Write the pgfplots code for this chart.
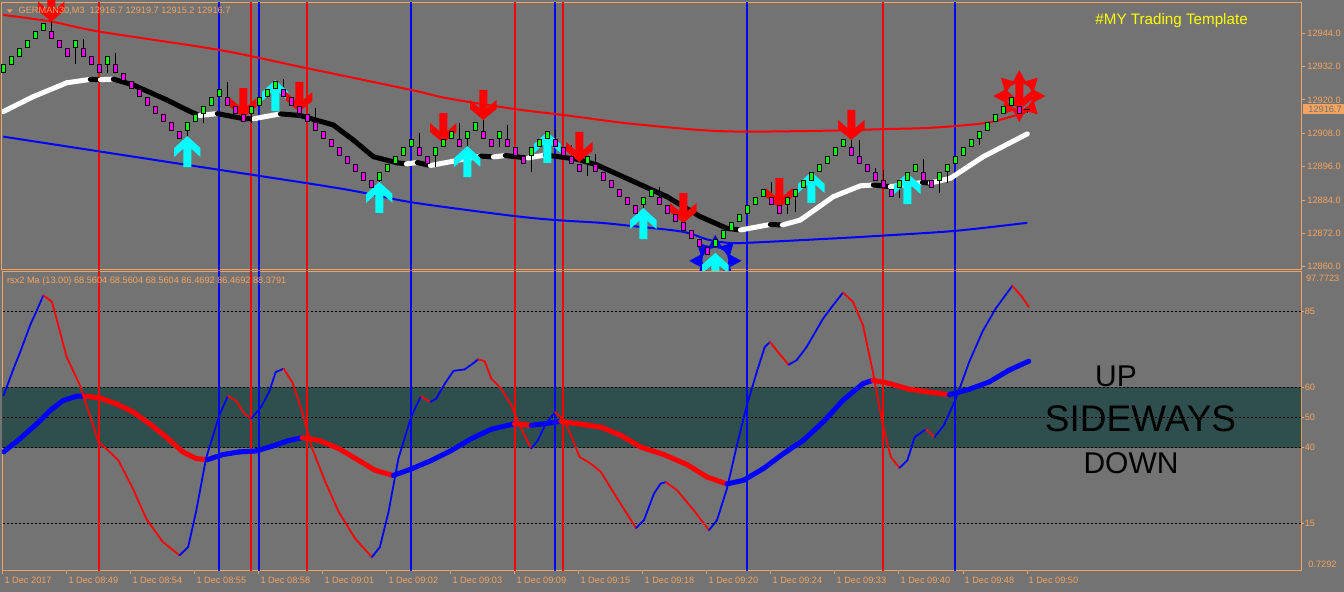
\documentclass[border=0pt]{standalone}
\usepackage{fontspec}
\setmainfont{Liberation Sans}
\usepackage{pgfplots}
\pgfplotsset{compat=1.18}
\usepackage{pgfplotstable}

\definecolor{bgg}{RGB}{115,115,115}
\definecolor{sandy}{RGB}{244,164,96}
\definecolor{dsg}{RGB}{47,79,79}
\definecolor{lime}{RGB}{0,255,0}
\definecolor{aqua}{RGB}{0,255,255}
\definecolor{mag}{RGB}{255,0,255}
\definecolor{pred}{RGB}{255,0,0}
\definecolor{pblue}{RGB}{0,0,255}
\definecolor{yel}{RGB}{255,255,0}

\newcommand\tk{\fontsize{4.6}{5}\selectfont}

\pgfdeclareplotmark{cndl}{%
  \pgfpathrectangle{\pgfpoint{-1.05pt}{-1.83pt}}{\pgfpoint{2.1pt}{3.66pt}}%
  \pgfusepathqfillstroke}
\pgfdeclareplotmark{uarr}{%
  \pgfpathmoveto{\pgfpoint{0pt}{0pt}}%
  \pgfpathlineto{\pgfpoint{6.6pt}{-6pt}}%
  \pgfpathlineto{\pgfpoint{6.6pt}{-10.5pt}}%
  \pgfpathlineto{\pgfpoint{2pt}{-6.3pt}}%
  \pgfpathlineto{\pgfpoint{2pt}{-15.5pt}}%
  \pgfpathlineto{\pgfpoint{-2pt}{-15.5pt}}%
  \pgfpathlineto{\pgfpoint{-2pt}{-6.3pt}}%
  \pgfpathlineto{\pgfpoint{-6.6pt}{-10.5pt}}%
  \pgfpathlineto{\pgfpoint{-6.6pt}{-6pt}}%
  \pgfpathclose\pgfusepathqfill}
\pgfdeclareplotmark{darr}{%
  \pgfpathmoveto{\pgfpoint{0pt}{0pt}}%
  \pgfpathlineto{\pgfpoint{6.6pt}{5.5pt}}%
  \pgfpathlineto{\pgfpoint{6.6pt}{10pt}}%
  \pgfpathlineto{\pgfpoint{2pt}{6pt}}%
  \pgfpathlineto{\pgfpoint{2pt}{15pt}}%
  \pgfpathlineto{\pgfpoint{-2pt}{15pt}}%
  \pgfpathlineto{\pgfpoint{-2pt}{6pt}}%
  \pgfpathlineto{\pgfpoint{-6.6pt}{10pt}}%
  \pgfpathlineto{\pgfpoint{-6.6pt}{5.5pt}}%
  \pgfpathclose\pgfusepathqfill}
\pgfdeclareplotmark{burst}{%
  \pgfpathmoveto{\pgfpointpolar{90}{13pt}}%
  \pgfpathlineto{\pgfpointpolar{112.5}{8pt}}%
  \pgfpathlineto{\pgfpointpolar{135}{13pt}}%
  \pgfpathlineto{\pgfpointpolar{157.5}{8pt}}%
  \pgfpathlineto{\pgfpointpolar{180}{13pt}}%
  \pgfpathlineto{\pgfpointpolar{202.5}{8pt}}%
  \pgfpathlineto{\pgfpointpolar{225}{13pt}}%
  \pgfpathlineto{\pgfpointpolar{247.5}{8pt}}%
  \pgfpathlineto{\pgfpointpolar{270}{13pt}}%
  \pgfpathlineto{\pgfpointpolar{292.5}{8pt}}%
  \pgfpathlineto{\pgfpointpolar{315}{13pt}}%
  \pgfpathlineto{\pgfpointpolar{337.5}{8pt}}%
  \pgfpathlineto{\pgfpointpolar{0}{13pt}}%
  \pgfpathlineto{\pgfpointpolar{22.5}{8pt}}%
  \pgfpathlineto{\pgfpointpolar{45}{13pt}}%
  \pgfpathlineto{\pgfpointpolar{67.5}{8pt}}%
  \pgfpathclose\pgfusepathqfill
  \pgfsetfillcolor{bgg}%
  \pgfpathcircle{\pgfpointorigin}{6.5pt}\pgfusepathqfill}

% wicks: k centre wick-above wick-below
\pgfplotstableread{
k c ep em
6 12943.3 6.9 0
9 12940.2 0 7.2
10 12937.1 4.9 0
13 12934.2 0 4.5
14 12931.3 5.6 0
23 12910.4 0 5.9
25 12916.4 0 4.7
28 12919.4 7.2 0
31 12916.4 0 4.8
35 12922.4 5.0 0
39 12910.4 6.6 0
47 12892.5 0 5.5
52 12901.5 6.7 0
54 12901.5 0 5.5
57 12904.5 7.2 0
58 12907.4 0 7.2
60 12907.4 6.2 0
62 12907.4 0 4.2
63 12904.5 6.6 0
66 12901.5 0 7.3
69 12904.5 5.1 0
71 12898.5 5.3 0
73 12898.5 0 5.9
74 12895.5 5.1 0
80 12883.6 0 5.6
82 12883.6 5.1 0
89 12868.5 0 6.7
96 12883.6 6.9 0
98 12883.6 0 4.7
99 12886.6 0 6.8
106 12901.5 5.3 0
107 12898.5 7.1 0
109 12892.5 3.0 0
110 12889.7 5.1 0
112 12889.7 0 4.9
115 12892.5 6.2 0
117 12892.5 0 5.9
118 12895.5 0 5.4
122 12907.4 0 3.7
127 12916.4 4.6 0
128 12916.7 3.0 1.5
}\tWick

% bullish candle bodies (centre price)
\pgfplotstableread{
k c
0 12931.3
1 12934.2
2 12937.1
3 12940.2
4 12943.3
5 12946.2
9 12940.2
13 12934.2
23 12910.4
24 12913.4
25 12916.4
26 12919.4
27 12922.4
31 12916.4
32 12919.4
33 12922.4
34 12925.3
47 12892.5
48 12895.5
49 12898.5
50 12901.5
51 12904.5
54 12901.5
55 12904.5
56 12907.4
58 12907.4
59 12910.4
62 12907.4
66 12901.5
67 12904.5
68 12907.4
73 12898.5
80 12883.6
81 12886.6
89 12868.5
90 12871.6
91 12874.5
92 12877.5
93 12880.6
94 12883.6
95 12886.6
98 12883.6
99 12886.6
100 12889.7
101 12892.5
102 12895.5
103 12898.5
104 12901.5
105 12904.5
112 12889.7
113 12892.5
114 12895.5
117 12892.5
118 12895.5
119 12898.5
120 12901.5
121 12904.5
122 12907.4
123 12910.4
124 12913.4
125 12916.4
126 12919.4
}\tBull

% bearish candle bodies (centre price)
\pgfplotstableread{
k c
6 12943.3
7 12940.2
8 12937.1
10 12937.1
11 12934.2
12 12931.3
14 12931.3
15 12928.3
16 12925.3
17 12922.4
18 12919.4
19 12916.4
20 12913.4
21 12910.4
22 12907.4
28 12919.4
29 12916.4
30 12913.4
35 12922.4
36 12919.4
37 12916.4
38 12913.4
39 12910.4
40 12907.4
41 12904.5
42 12901.5
43 12898.5
44 12895.5
45 12892.5
46 12889.7
52 12901.5
53 12898.5
57 12904.5
60 12907.4
61 12904.5
63 12904.5
64 12901.5
65 12898.5
69 12904.5
70 12901.5
71 12898.5
72 12895.5
74 12895.5
75 12892.5
76 12889.7
77 12886.6
78 12883.6
79 12880.6
82 12883.6
83 12880.6
84 12877.5
85 12874.5
86 12871.6
87 12868.5
88 12865.6
96 12883.6
97 12880.6
106 12901.5
107 12898.5
108 12895.5
109 12892.5
110 12889.7
111 12886.6
115 12892.5
116 12889.7
127 12916.4
}\tBear

% central moving average (f=1 rising/white, 0 falling/black)
\pgfplotstableread{
k p f
0 12915.8 1
3.75 12921.2 1
7.96 12926.2 1
10.88 12927.4 0
12.13 12927.3 1
13.75 12927.5 0
16.25 12925.4 0
20.46 12920.0 0
22.96 12916.4 0
24.5 12914.4 1
26.75 12915.1 0
30 12913.3 0
31.25 12913.2 1
34.63 12915.0 0
37.13 12914.4 0
41.25 12911.0 0
43.75 12905.6 0
46.25 12899.6 0
49.21 12897.4 0
50.38 12897.0 1
51.75 12897.5 0
53.38 12896.4 1
56.5 12898.1 1
59.63 12899.8 0
61.25 12899.5 1
62.75 12900.0 0
65.5 12899.1 1
67.75 12900.2 0
71.71 12898.7 0
74.21 12896.6 0
78.38 12891.2 0
82.96 12885.2 0
87.13 12878.0 0
90.46 12873.8 0
92.13 12873.2 1
95.88 12875.2 0
97.38 12875.0 1
99.63 12876.8 1
103.75 12885.2 1
107.13 12889.1 1
108.75 12889.4 0
110.88 12888.8 1
114.88 12890.3 0
115.88 12890.1 1
118.38 12891.8 1
122.5 12899.6 1
128 12907.8 1
}\tMa

\pgfplotstableread{
k p
0 12950.6
6 12948.2
12 12944.6
27 12938.0
37 12932.0
51 12923.6
55.5 12920.6
64 12916.7
70 12914.6
78 12911.6
87 12909.2
93 12908.6
104 12909.0
110 12909.5
116 12910.0
122.5 12911.6
126 12914.0
128 12915.8
}\tUpper

\pgfplotstableread{
k p
0 12906.8
21 12897.5
42 12888.2
51 12883.2
63.4 12878.4
69 12876.8
74.6 12875.8
78.4 12874.7
84.9 12872.6
88 12869.8
90.5 12868.6
93 12868.6
104 12870.2
110 12871.2
119 12872.9
128 12875.8
}\tLower

\pgfplotstableread{
k p
23 12907.0
34 12927.2
47 12890.5
58 12903.4
68 12908.5
80 12881.1
89 12865.0
101 12894.1
113 12893.7
}\tUp

\pgfplotstableread{
k p
6 12948.2
30 12913.5
37 12915.7
55 12904.5
60 12912.8
72 12897.7
85 12875.7
97 12881.1
106 12905.6
127 12916.4
}\tDn

% fast rsx line (f=1 rising/blue, 0 falling/red)
\pgfplotstableread{
k v f
0.04 57.3 1
1.28 66.1 1
2.11 71.6 1
3.36 80.5 1
4.19 85.4 1
5.02 90.4 0
6.09 88.2 0
7.09 78.3 0
7.92 70.0 0
9.58 60.6 0
10.82 50.7 0
11.90 41.9 0
13.31 38.6 0
14.39 35.8 0
16.21 26.4 0
17.87 16.5 0
19.95 8.8 0
22.02 4.4 1
23.10 7.1 1
24.09 18.7 1
25.34 36.4 1
27.00 50.7 1
28.08 57.1 0
29.07 55.6 0
30.15 51.2 0
30.98 49.6 1
32.22 53.4 1
33.22 58.4 1
34.05 65.0 1
35.04 66.1 0
36.12 61.7 0
37.37 51.8 0
38.61 39.7 0
40.27 28.6 0
41.93 18.7 0
44.00 9.9 0
46.07 3.8 1
47.07 7.1 1
48.15 18.7 1
49.39 36.4 1
51.05 50.7 1
52.21 57.0 0
53.37 55.1 1
54.12 56.2 1
55.20 61.2 1
56.28 65.4 1
57.69 65.9 1
58.68 67.8 1
59.35 69.2 0
60.18 68.6 0
61.00 62.8 0
62.25 59.5 0
63.49 54.0 0
64.74 46.3 0
65.98 39.7 1
66.81 42.4 1
67.81 47.9 1
68.97 51.8 0
70.13 49.0 0
71.12 43.0 0
72.04 36.9 0
73.45 34.7 0
74.69 32.0 0
76.76 23.1 0
79.09 13.4 1
80.08 16.0 1
81.33 24.8 1
82.16 28.1 1
82.82 28.6 0
84.23 25.9 0
86.30 19.3 0
88.21 12.7 1
89.21 16.0 1
90.45 26.4 1
91.70 40.8 1
92.94 54.0 1
94.18 65.0 1
95.18 73.3 1
95.84 75.0 0
96.84 71.6 0
98.16 67.4 1
99.16 68.9 1
100.41 73.3 1
102.48 82.7 1
103.72 87.1 1
104.97 91.3 0
106.21 88.2 0
107.46 80.5 0
108.70 65.0 0
109.94 47.4 0
110.94 36.9 0
112.02 33.3 1
113.01 35.8 1
113.92 43.5 1
115.33 46.1 0
116.41 43.5 1
117.57 47.4 1
119.07 56.2 1
120.73 68.3 1
122.38 78.3 1
124.04 86.0 1
126.12 93.5 0
127.36 89.8 0
128.19 86.5 0
}\tFast

% slow rsx average (f=1 rising/blue, 0 falling/red)
\pgfplotstableread{
k v f
0.04 38.6 1
2.11 43.0 1
4.19 47.9 1
5.85 52.3 1
7.50 55.6 1
9.16 57.0 1
10.24 57.1 0
12.07 56.4 0
14.14 54.5 0
16.21 51.8 0
18.29 47.9 0
20.36 43.5 0
22.43 38.6 0
24.09 36.4 0
25.50 36.0 1
27.41 37.7 1
29.49 38.6 1
31.56 38.9 1
33.63 40.5 1
35.71 42.4 1
37.37 43.3 0
39.44 42.4 0
41.93 39.7 0
44.42 35.8 0
46.49 32.5 0
48.73 30.8 1
51.05 33.0 1
53.54 35.8 1
56.03 39.1 1
58.52 43.0 1
61.00 46.1 1
63.91 47.9 0
65.98 47.4 1
67.64 47.9 1
69.71 48.7 0
71.79 47.9 0
74.69 46.8 0
77.18 44.1 0
79.67 40.2 0
82.57 37.7 0
85.47 34.4 0
87.96 30.3 0
90.45 28.0 1
92.52 29.2 1
95.01 33.1 1
97.50 38.0 1
99.99 42.4 1
102.48 48.5 1
104.97 55.7 1
107.46 61.2 1
108.70 62.3 0
110.77 61.2 0
113.26 59.3 0
115.75 58.4 0
118.24 57.5 1
120.73 59.3 1
123.21 61.7 1
125.70 65.6 1
128.19 68.6 1
}\tSlow

\begin{document}
\begin{tikzpicture}
\useasboundingbox (0,0) rectangle (672pt,296pt);
\fill[bgg] (0,0) rectangle (672pt,296pt);

%================ price panel
\begin{axis}[
  name=top, at={(1pt,161.35pt)}, anchor=south west, scale only axis,
  width=649.5pt, height=133.15pt,
  xmin=-0.16, xmax=162.21, ymin=12859.07, ymax=12954.9,
  axis background/.style={fill=bgg},
  axis line style={sandy, line width=0.5pt},
  xtick=\empty, scaled y ticks=false, scaled x ticks=false,
  ytick={12860,12872,12884,12896,12908,12920,12932,12944},
  yticklabels={12860.0,12872.0,12884.0,12896.0,12908.0,12920.0,12932.0,12944.0},
  ytick pos=right, yticklabel pos=right, tick align=outside,
  major tick length=2pt, tick style={sandy, line width=0.5pt},
  yticklabel style={font=\tk, text=sandy, anchor=west, inner sep=0pt, xshift=1pt},
  clip mode=global,
]
\pgfplotsinvokeforeach{11.93,30.93,37.93,63.93,69.93,109.93}{
  \addplot[pred, line width=1pt, forget plot] coordinates {(#1,12800) (#1,13000)};}
\pgfplotsinvokeforeach{26.93,31.93,50.93,68.93,92.93,118.93}{
  \addplot[pblue, line width=1pt, forget plot] coordinates {(#1,12800) (#1,13000)};}

\addplot[only marks, mark=burst, mark options={fill=pred, draw=none}] coordinates {(127,12921.4)};
\addplot[only marks, mark=burst, mark options={fill=pblue, draw=none}] coordinates {(89,12862.1)};
\addplot[only marks, mark=uarr, mark options={fill=aqua, draw=none}] table[x=k,y=p]{\tUp};
\addplot[only marks, mark=darr, mark options={fill=pred, draw=none}] table[x=k,y=p]{\tDn};

\addplot[pred, line width=1pt, smooth] table[x=k,y=p]{\tUpper};
\addplot[pblue, line width=1pt, smooth] table[x=k,y=p]{\tLower};

\addplot[mesh, shader=flat corner, point meta=explicit, point meta min=0, point meta max=1,
  colormap={bw}{color=(black) color=(white)}, line width=2.5pt, line cap=round]
  table[x=k,y=p,meta=f]{\tMa};

\addplot[draw=none, no marks, forget plot, error bars/.cd, y dir=both, y explicit, error mark=none,
  error bar style={draw=black, solid, line width=0.5pt}]
  table[x=k,y=c,y error plus=ep,y error minus=em]{\tWick};
\addplot[only marks, mark=cndl, mark options={draw=black, fill=lime, line width=0.5pt}]
  table[x=k,y=c]{\tBull};
\addplot[only marks, mark=cndl, mark options={draw=black, fill=mag, line width=0.5pt}]
  table[x=k,y=c]{\tBear};
\addplot[black, only marks, mark=-, mark size=1.5pt, mark options={line width=0.5pt}]
  coordinates {(128,12916.7)};
\end{axis}

%================ indicator panel
\begin{axis}[
  name=bot, at={(1pt,10.65pt)}, anchor=south west, scale only axis,
  width=649.5pt, height=149.5pt,
  xmin=-0.16, xmax=162.21, ymin=-0.69, ymax=98.2,
  axis background/.style={fill=bgg},
  axis line style={sandy, line width=0.5pt},
  scaled y ticks=false, scaled x ticks=false,
  xtick={-0.04,7.96,15.96,23.96,31.96,39.96,47.96,55.96,63.96,71.96,79.96,87.96,95.96,103.96,111.96,119.96,127.96},
  xticklabels={1 Dec 2017,1 Dec 08:49,1 Dec 08:54,1 Dec 08:55,1 Dec 08:58,1 Dec 09:01,1 Dec 09:02,1 Dec 09:03,1 Dec 09:09,1 Dec 09:15,1 Dec 09:18,1 Dec 09:20,1 Dec 09:24,1 Dec 09:33,1 Dec 09:40,1 Dec 09:48,1 Dec 09:50},
  xtick pos=left, 
  ytick={15,40,50,60,85}, yticklabels={15,40,50,60,85},
  ytick pos=right, yticklabel pos=right, tick align=outside,
  major tick length=1.7pt, tick style={sandy, line width=0.5pt},
  xticklabel style={font=\tk, text=sandy, anchor=north west, inner sep=0pt, xshift=0.6pt, yshift=-1.2pt},
  yticklabel style={font=\tk, text=sandy, anchor=west, inner sep=0pt, xshift=0pt},
  clip mode=global,
]
\addplot[fill=dsg, draw=none, forget plot] coordinates {(-1,40) (170,40) (170,60) (-1,60)} -- cycle;
\pgfplotsinvokeforeach{15,40,50,60,85}{
  \addplot[black, line width=0.5pt, dash pattern=on 1pt off 1pt, forget plot] coordinates {(-1,#1) (170,#1)};}
\pgfplotsinvokeforeach{11.93,30.93,37.93,63.93,69.93,109.93}{
  \addplot[pred, line width=1pt, forget plot] coordinates {(#1,-10) (#1,110)};}
\pgfplotsinvokeforeach{26.93,31.93,50.93,68.93,92.93,118.93}{
  \addplot[pblue, line width=1pt, forget plot] coordinates {(#1,-10) (#1,110)};}

\addplot[mesh, shader=flat corner, point meta=explicit, point meta min=0, point meta max=1,
  colormap={rb}{color=(pred) color=(pblue)}, line width=2.5pt, line cap=round]
  table[x=k,y=v,meta=f]{\tSlow};
\addplot[mesh, shader=flat corner, point meta=explicit, point meta min=0, point meta max=1,
  colormap={rb2}{color=(pred) color=(pblue)}, line width=0.9pt, line cap=round]
  table[x=k,y=v,meta=f]{\tFast};
\end{axis}

%================ texts
\fill[sandy] (3.5pt,291.25pt) -- (6.25pt,291.25pt) -- (4.875pt,289.6pt) -- cycle;
\node[anchor=base west, inner sep=0pt, text=sandy, font=\tk] at (9.15pt,289.35pt)
  {GERMAN30,M3\ \ 12916.7 12919.7 12915.2 12916.7};
\node[anchor=base west, inner sep=0pt, text=yel, font=\fontsize{7.6}{8}\selectfont] at (547.5pt,283.5pt)
  {\#MY Trading Template};
\node[anchor=base west, inner sep=0pt, text=sandy, font=\tk] at (3.35pt,154pt)
  {rsx2 Ma (13.00) 68.5604 68.5604 68.5604 86.4692 86.4692 88.3791};
\node[anchor=base, inner sep=0pt, font=\fontsize{15}{15}\selectfont] at (558pt,102.65pt) {UP};
\node[anchor=base, inner sep=0pt, font=\fontsize{18.5}{18.5}\selectfont] at (570.25pt,80.15pt) {SIDEWAYS};
\node[anchor=base, inner sep=0pt, font=\fontsize{15}{15}\selectfont] at (565.5pt,59.35pt) {DOWN};
\fill[sandy] (651.35pt,238.85pt) rectangle (672pt,243.85pt);
\node[anchor=base west, inner sep=0pt, text=bgg, font=\tk] at (654pt,239.6pt) {12916.7};
\node[anchor=west, inner sep=0pt, text=sandy, font=\tk] at (652.85pt,157pt) {97.7723};
\node[anchor=west, inner sep=0pt, text=sandy, font=\tk] at (654pt,13.85pt) {0.7292};
\end{tikzpicture}
\end{document}
